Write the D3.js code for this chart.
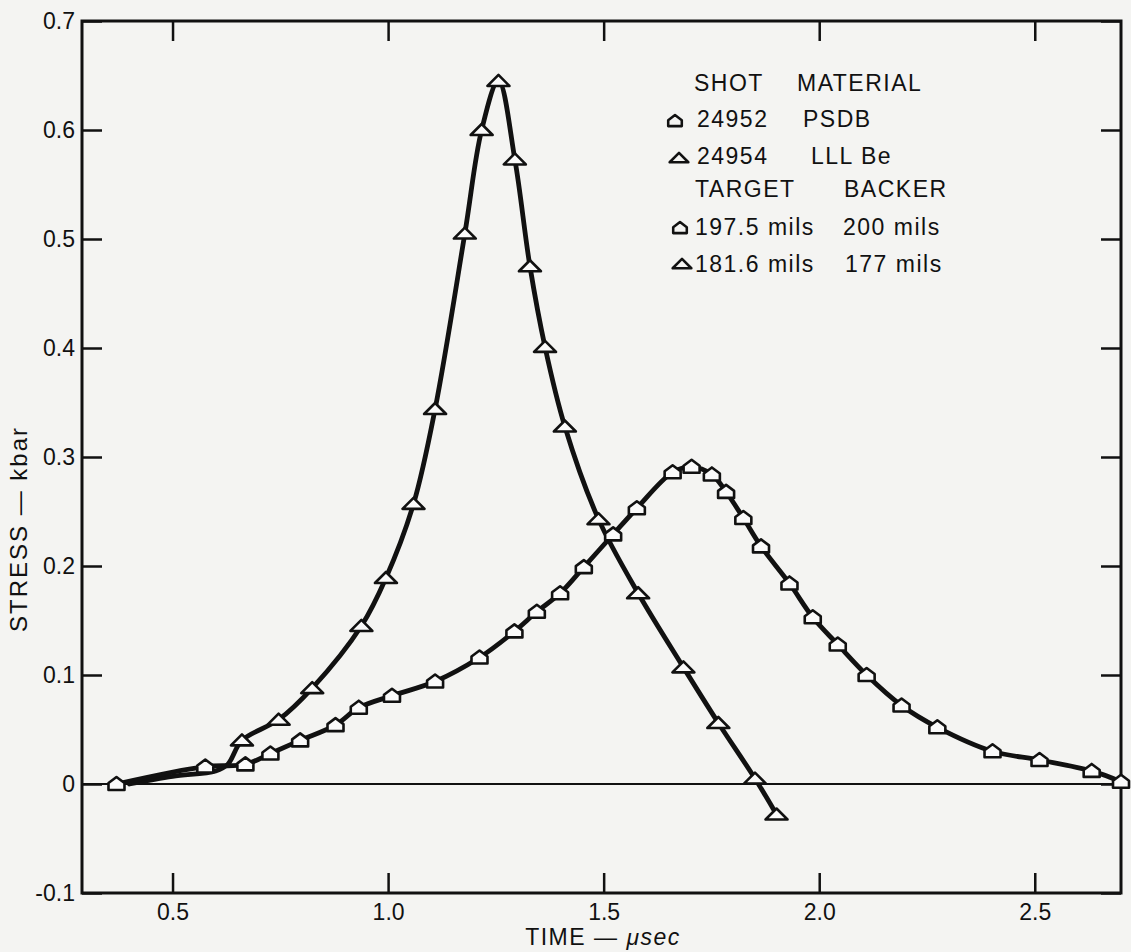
<!DOCTYPE html>
<html>
<head>
<meta charset="utf-8">
<script src="https://cdn.jsdelivr.net/npm/d3@7"></script>
<style>
  html, body { margin: 0; padding: 0; background: #f4f4f2; }
  svg { display: block; font-family: "Liberation Sans", Arial, Helvetica, sans-serif; }
</style>
</head>
<body>
<svg id="chart" width="1131" height="952"></svg>
<script>
// Shot 24952, PSDB target (pentagon markers)
const psdbTime   = [0.370, 0.576, 0.669, 0.727, 0.796, 0.878, 0.932, 1.009, 1.109, 1.212,
                    1.293, 1.345, 1.399, 1.454, 1.522, 1.577, 1.660, 1.704, 1.751, 1.784,
                    1.824, 1.865, 1.931, 1.985, 2.043, 2.110, 2.191, 2.274, 2.402, 2.511,
                    2.632, 2.700];
const psdbStress = [0.000, 0.016, 0.018, 0.028, 0.040, 0.054, 0.070, 0.081, 0.094, 0.116,
                    0.140, 0.158, 0.175, 0.199, 0.229, 0.253, 0.286, 0.291, 0.284, 0.268,
                    0.244, 0.218, 0.184, 0.153, 0.128, 0.100, 0.072, 0.052, 0.030, 0.022,
                    0.012, 0.002];

// Shot 24954, LLL Be target (triangle markers); the first three points run along
// the common foot of both curves and are drawn without a marker
const beTime   = [0.400, 0.500, 0.600, 0.628, 0.661, 0.746, 0.824, 0.938, 0.995, 1.059,
                  1.109, 1.178, 1.217, 1.256, 1.294, 1.329, 1.364, 1.410, 1.488, 1.580,
                  1.685, 1.766, 1.851, 1.901];
const beStress = [0.000, 0.007, 0.012, 0.018, 0.040, 0.059, 0.088, 0.145, 0.189, 0.257,
                  0.344, 0.505, 0.600, 0.645, 0.573, 0.475, 0.401, 0.328, 0.243, 0.175,
                  0.107, 0.056, 0.005, -0.028];
const beFirstMarker = 4;

const xTicks      = [0.5, 1.0, 1.5, 2.0, 2.5];
const xTickLabels = ["0.5", "1.0", "1.5", "2.0", "2.5"];
const yTicks      = [-0.1, 0, 0.1, 0.2, 0.3, 0.4, 0.5, 0.6, 0.7];
const yTickLabels = ["-0.1", "0", "0.1", "0.2", "0.3", "0.4", "0.5", "0.6", "0.7"];

// Key: header rows and one row per shot
const keyHeader1   = ["SHOT", "MATERIAL"];
const keyShots     = ["24952", "24954"];
const keyMaterials = ["PSDB", "LLL Be"];
const keyHeader2   = ["TARGET", "BACKER"];
const keyTargets   = ["197.5 mils", "181.6 mils"];
const keyBackers   = ["200 mils", "177 mils"];
const keySymbols   = ["pent", "tri"];

const svg = d3.select("#chart");
const W = 1131, H = 952;
svg.append("rect").attr("width", W).attr("height", H).attr("fill", "#f4f4f2");

const x = d3.scaleLinear().domain([0.29, 2.70]).range([82, 1121]);
const y = d3.scaleLinear().domain([-0.1, 0.7]).range([893, 21]);

const ink = "#111";
const fontSize = 23;

// Marker outlines: a house-shaped pentagon and a wide flat-based triangle
const pentPath = "M-8,6 L8,6 L8,-1 L0,-7 L-8,-1 Z";
const triPath  = "M-11,5 L11,5 L0,-6 Z";
const symbolPath = s => s === "pent" ? pentPath : triPath;

// Zero line
svg.append("line")
  .attr("x1", x.range()[0]).attr("x2", x.range()[1])
  .attr("y1", y(0)).attr("y2", y(0))
  .attr("stroke", ink).attr("stroke-width", 2);

// Axes with inward ticks on all four sides
const tickLen = 20;
const axisB = svg.append("g").attr("transform", `translate(0,${y.range()[0]})`)
  .call(d3.axisBottom(x).tickValues(xTicks).tickFormat((d, i) => xTickLabels[i])
        .tickSize(-tickLen).tickSizeOuter(0).tickPadding(11));
const axisT = svg.append("g").attr("transform", `translate(0,${y.range()[1]})`)
  .call(d3.axisTop(x).tickValues(xTicks).tickFormat("").tickSize(-tickLen).tickSizeOuter(0));
const axisL = svg.append("g").attr("transform", `translate(${x.range()[0]},0)`)
  .call(d3.axisLeft(y).tickValues(yTicks).tickFormat((d, i) => yTickLabels[i])
        .tickSize(-tickLen).tickSizeOuter(0).tickPadding(7));
const axisR = svg.append("g").attr("transform", `translate(${x.range()[1]},0)`)
  .call(d3.axisRight(y).tickValues(yTicks).tickFormat("").tickSize(-tickLen).tickSizeOuter(0));

[axisB, axisT, axisL, axisR].forEach(g => {
  g.select(".domain").remove();
  g.selectAll(".tick line").attr("stroke", ink).attr("stroke-width", 2.5);
  g.selectAll(".tick text").attr("fill", ink)
    .style("font-size", fontSize + "px").style("font-family", "'Liberation Sans', Arial, sans-serif");
});

// Plot frame
svg.append("rect")
  .attr("x", x.range()[0]).attr("y", y.range()[1])
  .attr("width", x.range()[1] - x.range()[0])
  .attr("height", y.range()[0] - y.range()[1])
  .attr("fill", "none").attr("stroke", ink).attr("stroke-width", 3);

// Curves
const curve = d3.line()
  .x(d => x(d[0])).y(d => y(d[1]))
  .curve(d3.curveCatmullRom.alpha(0.5));

const psdb = psdbTime.map((t, i) => [t, psdbStress[i]]);
const be   = beTime.map((t, i) => [t, beStress[i]]);

svg.append("path").datum(be).attr("d", curve)
  .attr("fill", "none").attr("stroke", ink).attr("stroke-width", 4.8)
  .attr("stroke-linejoin", "round").attr("stroke-linecap", "round");
svg.append("path").datum(psdb).attr("d", curve)
  .attr("fill", "none").attr("stroke", ink).attr("stroke-width", 4.8)
  .attr("stroke-linejoin", "round").attr("stroke-linecap", "round");

// Markers
svg.append("g").selectAll("path").data(be.slice(beFirstMarker)).join("path")
  .attr("d", triPath)
  .attr("transform", d => `translate(${x(d[0])},${y(d[1])})`)
  .attr("fill", "#fafafa").attr("stroke", ink).attr("stroke-width", 2.6)
  .attr("stroke-linejoin", "round");
svg.append("g").selectAll("path").data(psdb).join("path")
  .attr("d", pentPath)
  .attr("transform", d => `translate(${x(d[0])},${y(d[1])})`)
  .attr("fill", "#fafafa").attr("stroke", ink).attr("stroke-width", 2.6)
  .attr("stroke-linejoin", "round");

// Key
const key = svg.append("g")
  .style("font-size", fontSize + "px").attr("fill", ink)
  .style("letter-spacing", "1.5px");
const keyText = (tx, ty, s) => key.append("text").attr("x", tx).attr("y", ty).text(s);

keyText(694, 91, keyHeader1[0]);
keyText(797, 91, keyHeader1[1]);
const shotRowsY = [127, 164];
const matX = [803, 811];
keyShots.forEach((s, i) => {
  keyText(697, shotRowsY[i], s);
  keyText(matX[i], shotRowsY[i], keyMaterials[i]);
});
keyText(695, 197, keyHeader2[0]);
keyText(844, 197, keyHeader2[1]);
const dimRowsY = [235, 272];
const backX = [843, 845];
keyTargets.forEach((s, i) => {
  keyText(695, dimRowsY[i], s);
  keyText(backX[i], dimRowsY[i], keyBackers[i]);
});
const keySymPos = [[675, 121], [679, 158], [680, 228], [682, 264]];
[0, 1, 0, 1].forEach((k, i) => {
  key.append("path").attr("d", symbolPath(keySymbols[k]))
    .attr("transform", `translate(${keySymPos[i][0]},${keySymPos[i][1]}) scale(0.85)`)
    .attr("fill", "none").attr("stroke", ink).attr("stroke-width", 3)
    .attr("stroke-linejoin", "round");
});

// Axis titles
const xTitle = svg.append("text")
  .attr("x", 603).attr("y", 945)
  .attr("text-anchor", "middle").attr("fill", ink)
  .style("font-size", "23px").style("letter-spacing", "1.5px");
xTitle.append("tspan").text("TIME — ");
xTitle.append("tspan").attr("font-style", "italic").text("μsec");

svg.append("text")
  .attr("transform", "translate(27,529) rotate(-90)")
  .attr("text-anchor", "middle").attr("fill", ink)
  .style("font-size", "24px").style("letter-spacing", "2px")
  .text("STRESS — kbar");
</script>
</body>
</html>
